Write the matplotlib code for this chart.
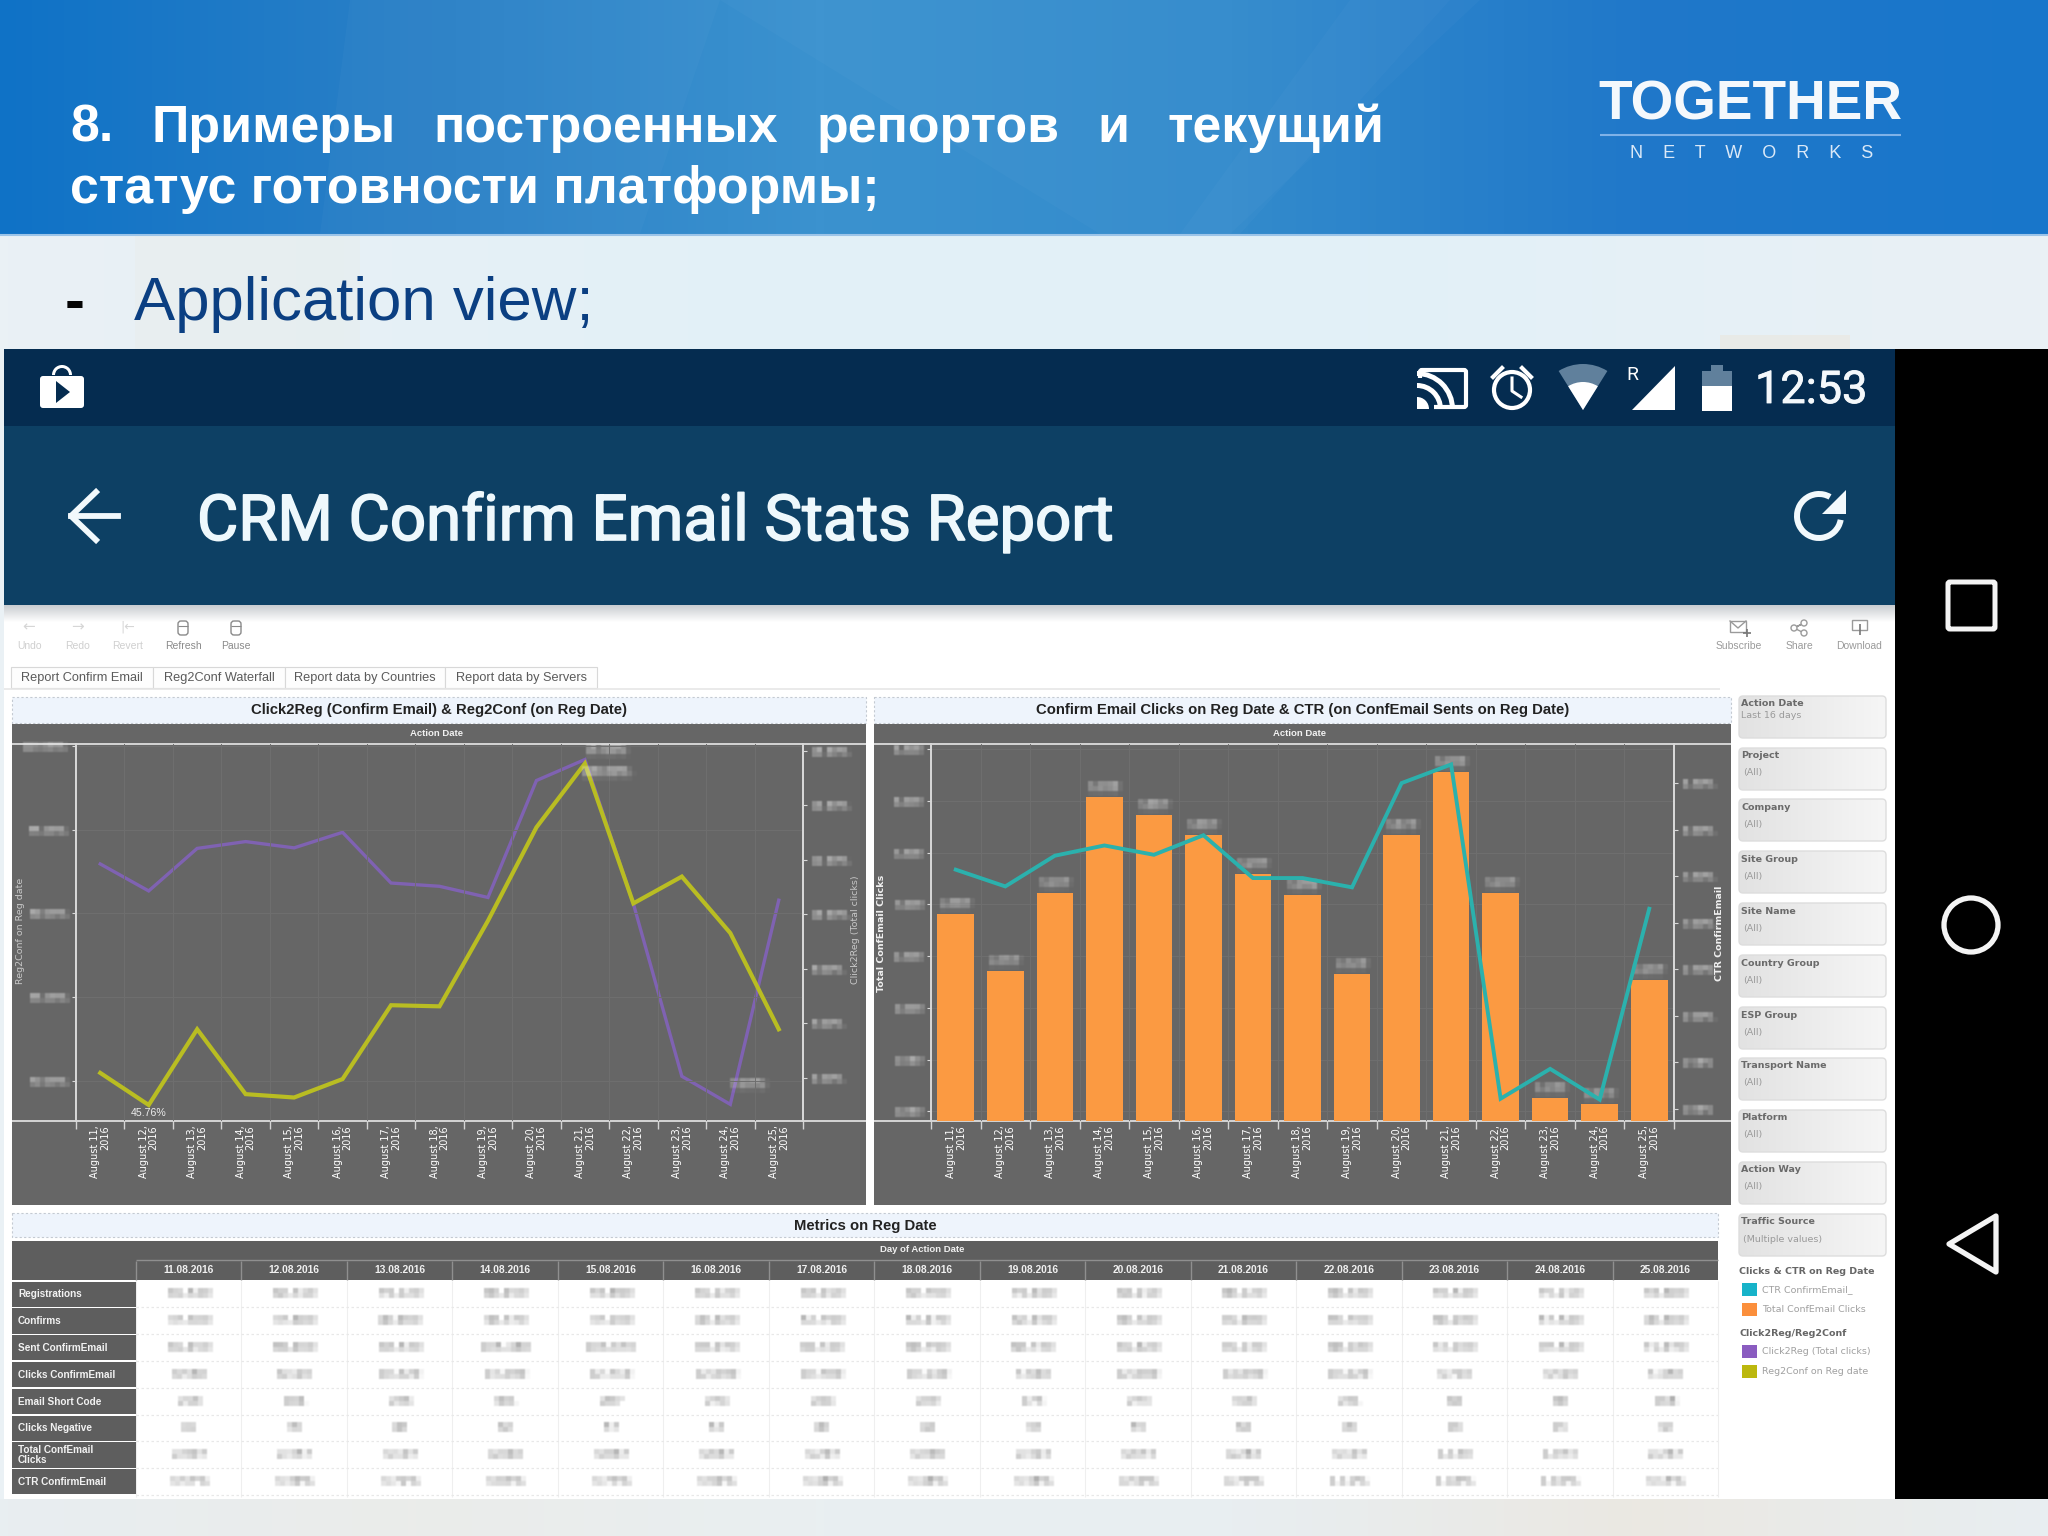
import numpy as np
import matplotlib
matplotlib.use("Agg")
import matplotlib.pyplot as plt
import matplotlib.patheffects as pe
from matplotlib.patches import Rectangle, FancyBboxPatch, Polygon, Circle, Wedge
from matplotlib.colors import LinearSegmentedColormap

# ---------- data ----------
date_labels = ["August %d,\n2016" % d for d in range(11, 26)]
table_dates = ["%d.08.2016" % d for d in range(11, 26)]
reg2conf = [51.5, 45.76, 59.3, 47.7, 47.1, 50.4, 63.6, 63.4, 78.7, 95.4, 106.8, 81.8, 86.6, 76.5, 59.3]
click2reg = [11.85, 10.86, 12.42, 12.67, 12.44, 13.01, 11.15, 11.03, 10.62, 14.91, 15.68, 10.39, 4.06, 3.03, 10.52]
total_clicks = [2907, 2357, 3107, 4040, 3867, 3667, 3297, 3090, 2323, 3673, 4283, 3107, 1130, 1073, 2267]
ctr_confirm = [3.57, 3.39, 3.72, 3.83, 3.73, 3.94, 3.48, 3.48, 3.38, 4.50, 4.70, 1.11, 1.43, 1.10, 3.15]
left_ticks = [50, 65, 80, 95, 110]
right_ticks = [4, 6, 8, 10, 12, 14, 16]
bar_ticks = [1000, 1500, 2000, 2500, 3000, 3500, 4000, 4500]
ctr_ticks = [1.0, 1.5, 2.0, 2.5, 3.0, 3.5, 4.0, 4.5]
registrations = [81540, 82310, 79120, 80450, 78890, 81220, 83010, 82760, 79940, 84210, 86120, 80330, 76540, 75210, 78660]
confirms = [37300, 37660, 46900, 38370, 37160, 40920, 52790, 52470, 62930, 80340, 91980, 65700, 66280, 57540, 46660]
sent_email = [81450, 69460, 83530, 105480, 103670, 93070, 94740, 88790, 68730, 81620, 91130, 88180, 72100, 97540, 71970]
clicks_email = [9560, 8120, 10320, 13290, 12710, 12090, 10780, 10140, 7640, 12080, 14090, 10220, 3710, 3520, 7450]
short_code = [218, 184, 236, 301, 287, 274, 244, 229, 173, 273, 318, 231, 84, 80, 168]
clicks_negative = [41, 35, 48, 62, 57, 53, 46, 44, 33, 55, 64, 45, 16, 15, 32]
row_labels = ["Registrations", "Confirms", "Sent ConfirmEmail", "Clicks ConfirmEmail", "Email Short Code",
              "Clicks Negative", "Total ConfEmail\nClicks", "CTR ConfirmEmail"]
filter_titles = ["Action Date", "Project", "Company", "Site Group", "Site Name", "Country Group",
                 "ESP Group", "Transport Name", "Platform", "Action Way", "Traffic Source"]
filter_values = ["Last 16 days", "(All)", "(All)", "(All)", "(All)", "(All)", "(All)", "(All)", "(All)", "(All)",
                 "(Multiple values)"]
tab_names = ["Report Confirm Email", "Reg2Conf Waterfall", "Report data by Countries", "Report data by Servers"]

# ---------- style ----------
PANEL = "#666666"
NARROW = ["Liberation Sans", "DejaVu Sans"]
SANS = ["Liberation Sans", "DejaVu Sans"]
W, H = 2048, 1536
fig = plt.figure(figsize=(W / 100, H / 100), dpi=100)
fig.patch.set_facecolor("#e9f1f5")
bg = fig.add_axes([0, 0, 1, 1], zorder=0)
bg.set_axis_off()


def mosaic(color, block=4, gain=1.5):
    rgb = np.array(matplotlib.colors.to_rgb(color))

    def flt(im, dpi):
        a = im[:, :, 3]
        pad = block * 2
        h, w = a.shape
        ph = pad + (block - (h + 2 * pad) % block) % block
        pw = pad + (block - (w + 2 * pad) % block) % block
        a = np.pad(a, ((pad, ph), (pad, pw)))
        hh, ww = a.shape
        m = a.reshape(hh // block, block, ww // block, block).mean(axis=(1, 3))
        m = np.repeat(np.repeat(m, block, axis=0), block, axis=1)
        k = np.array([1, 2, 1]) / 4
        m = np.apply_along_axis(lambda v: np.convolve(v, k, mode="same"), 0, m)
        m = np.apply_along_axis(lambda v: np.convolve(v, k, mode="same"), 1, m)
        out = np.zeros((hh, ww, 4))
        out[:, :, :3] = rgb
        out[:, :, 3] = np.clip(m * gain, 0, 1)
        return out, -pad, -ph

    return flt


def rect(x0, y0, x1, y1, c, z=1, **kw):
    p = Rectangle((x0, y0), x1 - x0, y1 - y0, facecolor=c, edgecolor=kw.pop("ec", "none"), zorder=z, **kw)
    bg.add_patch(p)
    return p


def grad(x0, y0, x1, y1, cols, horiz=True, z=1, clip=None):
    cm = LinearSegmentedColormap.from_list("g", cols)
    arr = np.linspace(0, 1, 256)
    arr = arr[None, :] if horiz else arr[:, None]
    im = bg.imshow(arr, extent=(x0, x1, y1, y0), cmap=cm, aspect="auto", zorder=z, origin="upper")
    if clip is not None:
        im.set_clip_path(clip)
    return im


def txt(x, y, s, size, c="k", fam=SANS, weight="normal", ha="left", va="center", z=5, **kw):
    return bg.text(x, y, s, fontsize=size, color=c, family=fam, weight=weight, ha=ha, va=va, zorder=z, **kw)


def hline(x0, x1, y, c, lw=1, z=3, **kw):
    bg.plot([x0, x1], [y, y], color=c, lw=lw, zorder=z, solid_capstyle="butt", **kw)


def vline(x, y0, y1, c, lw=1, z=3, **kw):
    bg.plot([x, x], [y0, y1], color=c, lw=lw, zorder=z, solid_capstyle="butt", **kw)


# ---------- slide background ----------
grad(0, 0, W, 234, ["#0f72c6", "#2a80c6", "#3b92cf", "#338bcc", "#2078c9", "#1876cb"])
for pts, a in [([(350, 0), (720, 0), (640, 234), (320, 234)], .025),
               ([(720, 0), (1180, 0), (1450, 0), (1240, 234), (1100, 234)], .025),
               ([(1350, 0), (1480, 0), (1230, 234), (1180, 234)], .025)]:
    bg.add_patch(Polygon(pts, facecolor="white", alpha=a, edgecolor="none", zorder=2))
hline(0, W, 235, "#9cc4e8", 1.5)
grad(0, 236, W, H, ["#eaf1f5", "#e3f0f7", "#e2f0f8", "#eaf1f5"])
rect(135, 236, 360, 349, "#f4d9b0", z=2, alpha=.07)
rect(1720, 335, 1850, 349, "#f6cfa8", z=2, alpha=.18)
grad(0, 1499, W, H, ["#e8eef1", "#ebecea", "#e9eff1", "#e8eef1", "#ebe8e2", "#e8eef1"], z=2)

# title, justified word by word
rend = fig.canvas.get_renderer()
line1 = ["8.", "Примеры", "построенных", "репортов", "и", "текущий"]
bg.set_xlim(0, W)
bg.set_ylim(H, 0)
meas = []
for w in line1:
    t = txt(0, 0, w, 37.4, "w", weight="bold", va="baseline")
    meas.append(t.get_window_extent(rend).width)
    t.remove()
gap = (1384 - 70 - sum(meas)) / (len(line1) - 1)
xp = 70
for w, m in zip(line1, meas):
    txt(xp, 142, w, 37.4, "w", weight="bold", va="baseline")
    xp += m + gap
txt(70, 203, "статус готовности платформы;", 37.4, "w", weight="bold", va="baseline")
txt(65, 320, "-", 43, "#050505", weight="bold", va="baseline")
txt(134, 320, "Application view;", 44.5, "#0b3f82", va="baseline")

# logo
txt(1750, 120, "TOGETHER", 39.5, "#f4f8fc", fam=NARROW, weight="bold", ha="center", va="baseline")
hline(1600, 1901, 135, "#7fb2e8", 1.5)
txt(1752, 154, "N    E    T    W    O    R    K    S", 13, "#dbe9f8", ha="center")

# ---------- phone chrome ----------
rect(4, 349, 1895, 426, "#052c50", z=2)
rect(4, 426, 1895, 605, "#0d4064", z=2)
rect(4, 605, 1895, 1499, "#ffffff", z=2)
grad(4, 605, 1895, 622, ["#c8ccd0", "#ffffff"], horiz=False, z=2.5)
rect(1895, 349, W, 1499, "#000000", z=2)

# play store bag
bg.add_patch(FancyBboxPatch((40, 376), 44, 32, boxstyle="round,pad=0,rounding_size=3", fc="w", ec="none", zorder=4))
bg.add_patch(Wedge((62, 375), 10, 180, 360, width=3, fc="w", ec="none", zorder=4))
bg.add_patch(Polygon([(56, 381), (56, 403), (70, 392)], fc="#052c50", ec="none", zorder=5))

# status icons
bg.add_patch(FancyBboxPatch((1420, 370), 46, 37, boxstyle="round,pad=0,rounding_size=2", fc="none", ec="w", lw=3, zorder=4))
rect(1414, 378, 1434, 412, "#052c50", z=4)
for r, wd in [(38, 5), (26, 5)]:
    bg.add_patch(Wedge((1417, 409), r, -90, 0, width=wd, fc="w", ec="none", zorder=5))
bg.add_patch(Wedge((1417, 409), 12, -90, 0, fc="w", ec="none", zorder=5))
bg.add_patch(Circle((1512, 390), 18, fc="none", ec="w", lw=3, zorder=4))
bg.plot([1512, 1512, 1521], [378, 391, 397], color="w", lw=2.2, zorder=4)
bg.plot([1493, 1502], [377, 368], color="w", lw=3, zorder=4)
bg.plot([1522, 1531], [368, 377], color="w", lw=3, zorder=4)
bg.add_patch(Wedge((1583, 410), 46, -90 - 32, -90 + 32, fc="#60809c", ec="none", zorder=4))
bg.add_patch(Wedge((1583, 410), 28, -90 - 32, -90 + 32, fc="w", ec="none", zorder=5))
txt(1626, 375, "R", 14, "w", fam=["Roboto", "DejaVu Sans"], ha="left")
bg.add_patch(Polygon([(1632, 410), (1675, 410), (1675, 366)], fc="w", ec="none", zorder=4))
rect(1702, 371, 1732, 411, "w", z=4)
rect(1702, 371, 1732, 386, "#60809c", z=4.5)
rect(1711, 365, 1723, 371, "#60809c", z=4.5)
txt(1755, 391, "12:53", 32.5, "#f4f8fb", fam=["Roboto", "DejaVu Sans"],
    path_effects=[pe.withStroke(linewidth=.6, foreground="#f4f8fb")])

# app bar
bg.plot([118, 71], [516, 516], color="#f2f9fc", lw=4.2, zorder=4)
bg.plot([96, 71, 96], [492, 516, 540], color="#f2f9fc", lw=4.2, zorder=4)
txt(197, 540, "CRM Confirm Email Stats Report", 45.7, "#eef8fc", fam=["Roboto", "DejaVu Sans"], va="baseline",
    path_effects=[pe.withStroke(linewidth=1.2, foreground="#eef8fc")])
bg.add_patch(Wedge((1819, 516), 25, 10, 300, width=6, fc="#f2f9fc", ec="none", zorder=4))
bg.add_patch(Polygon([(1846, 490), (1846, 514), (1822, 514)], fc="#f2f9fc", ec="none", zorder=4))

# android nav
bg.add_patch(FancyBboxPatch((1948, 582), 47, 47, boxstyle="round,pad=0,rounding_size=2", fc="none", ec="#f4f4f4", lw=3.6, zorder=4))
bg.add_patch(Circle((1971, 925), 27, fc="none", ec="#f4f4f4", lw=3.8, zorder=4))
bg.add_patch(Polygon([(1996, 1216), (1996, 1272), (1949, 1244)], fc="none", ec="#f4f4f4", lw=3.8, joinstyle="round", zorder=4))

# toolbar
for x, s, c in [(29, "Undo", "#cfcfcf"), (78, "Redo", "#cfcfcf"), (128, "Revert", "#cfcfcf"),
                (183, "Refresh", "#8a8a8a"), (236, "Pause", "#8a8a8a"),
                (1739, "Subscribe", "#9a9a9a"), (1799, "Share", "#9a9a9a"), (1859, "Download", "#9a9a9a")]:
    txt(x, 646, s, 7.5, c, fam=NARROW, ha="center")
txt(29, 627, "←", 11, "#d6d6d6", fam=["DejaVu Sans"], ha="center")
txt(78, 627, "→", 11, "#d6d6d6", fam=["DejaVu Sans"], ha="center")
txt(128, 627, "|←", 9, "#d6d6d6", fam=["DejaVu Sans"], ha="center")
for x in (183, 236):
    bg.add_patch(FancyBboxPatch((x - 5, 621), 10, 14, boxstyle="round,pad=0,rounding_size=3", fc="none", ec="#8a8a8a", lw=1, zorder=4))
    hline(x - 5, x + 5, 626, "#8a8a8a", .8, z=4)
rect(1730, 621, 1746, 632, "none", z=4, ec="#9a9a9a", lw=1)
bg.plot([1730, 1738, 1746], [621, 628, 621], color="#9a9a9a", lw=1, zorder=4)
hline(1743, 1751, 633, "#777777", 1.2, z=4)
vline(1747, 629, 637, "#777777", 1.2, z=4)
bg.plot([1794, 1804, 1794, 1804], [628, 623, 628, 633], color="#9a9a9a", lw=1, zorder=4)
for px, py in [(1794, 628), (1804, 623), (1804, 633)]:
    bg.add_patch(Circle((px, py), 3, fc="w", ec="#9a9a9a", lw=1, zorder=5))
rect(1852, 620, 1867, 630, "none", z=4, ec="#9a9a9a", lw=1)
vline(1859.5, 624, 635, "#777777", 1.2, z=5)

# tabs
tab_edges = [11, 153, 285, 445, 597]
for i, name in enumerate(tab_names):
    rect(tab_edges[i], 667, tab_edges[i + 1], 688, "#fdfdfd", z=3, ec="#d8d8d8", lw=.8)
    txt((tab_edges[i] + tab_edges[i + 1]) / 2, 678, name, 9.2, "#5a5a5a", fam=NARROW, ha="center")
hline(4, 1720, 689, "#e6e6e6", 1.2)


# ---------- chart panels ----------
def panel(x0, x1, title):
    rect(x0, 697, x1, 723, "#eef4fc", z=3, ec="#c4cad2", lw=.8, ls=(0, (2, 2)))
    txt((x0 + x1) / 2, 710, title, 10.7, "#222222", fam=NARROW, weight="bold", ha="center")
    rect(x0, 724, x1, 1205, PANEL, z=3)
    txt((x0 + x1) / 2 - 3, 733, "Action Date", 6.8, "#f2f2f2", fam=NARROW, weight="bold", ha="center")
    hline(x0, x1, 744, "#d4d4d4", 1.4, z=4)
    hline(x0, x1, 1121, "#d4d4d4", 1.4, z=4)


panel(12, 866, "Click2Reg (Confirm Email) & Reg2Conf (on Reg Date)")
panel(874, 1731, "Confirm Email Clicks on Reg Date & CTR (on ConfEmail Sents on Reg Date)")


def chart_axes(x0, x1, ylim):
    ax = fig.add_axes([x0 / W, 1 - 1121 / H, (x1 - x0) / W, (1121 - 744) / H], zorder=3)
    ax.patch.set_alpha(0)
    ax.set_xlim(-.5, 14.5)
    ax.set_ylim(*ylim)
    ax.set_xticks(range(15))
    ax.set_xticklabels(date_labels, rotation=90, fontsize=7, color="#ffffff", family="DejaVu Sans", ha="center",
                       va="top", ma="right", linespacing=1.0)
    ax.set_xticks(np.arange(-.5, 15, 1), minor=True)
    ax.tick_params(axis="x", which="major", length=0, pad=3)
    ax.tick_params(axis="x", which="minor", length=6, color="#d4d4d4", width=1)
    ax.grid(True, which="minor", axis="x", color="#6f6f6f", lw=.7)
    ax.grid(True, which="major", axis="y", color="#6f6f6f", lw=.7)
    ax.set_axisbelow(True)
    for s in ("top", "bottom"):
        ax.spines[s].set_visible(False)
    for s in ("left", "right"):
        ax.spines[s].set_color("#d8d8d8")
        ax.spines[s].set_linewidth(1.4)
    return ax


def blur_ticks(ax, ticks, labels):
    ax.set_yticks(ticks)
    ax.set_yticklabels(labels, fontsize=7.4, color="#e4e4e4", family="DejaVu Sans")
    ax.tick_params(axis="y", length=3, color="#d8d8d8", pad=3)
    for t in ax.get_yticklabels():
        t.set_agg_filter(mosaic("#e6e6e6", block=5, gain=1.3))


def blur_note(ax, x, y, s, dx, dy, c="#e8e8e8", size=8):
    a = ax.annotate(s, (x, y), xytext=(dx, dy), textcoords="offset pixels", fontsize=size, color=c, ha="center",
                    va="center", zorder=8)
    a.set_agg_filter(mosaic(c, block=5, gain=1.3))


xs = np.arange(15)

# left chart
a1r = chart_axes(76, 803, (42.9, 110.3))
a1r.set_ylim(2.42, 16.25)
a1r.yaxis.tick_right()
a1r.set_xticklabels([""] * 15)
a1r.tick_params(axis="x", which="minor", length=0)
a1r.grid(False, axis="y")
a1r.set_zorder(3)
blur_ticks(a1r, right_ticks, ["%.2f%%" % v for v in right_ticks])
a1r.grid(False, axis="y")
a1r.plot(xs, click2reg, color="#7f62b2", lw=2.4, solid_joinstyle="miter", zorder=3)
blur_note(a1r, 10, click2reg[10], "%.2f%%" % click2reg[10], 22, 10)
blur_note(a1r, 13, click2reg[13], "%.2f%%" % click2reg[13], 18, 20)

a1 = chart_axes(76, 803, (42.9, 110.3))
a1.set_zorder(4)
blur_ticks(a1, left_ticks, ["%.2f%%" % v for v in left_ticks])
a1.plot(xs, reg2conf, color="#b9bd22", lw=3.0, solid_joinstyle="miter", zorder=4)
a1.text(1, reg2conf[1], "45.76%", fontsize=7.6, color="#ececec", family=NARROW, ha="center", va="top",
        transform=a1.transData + matplotlib.transforms.ScaledTranslation(0, -3 / 100, fig.dpi_scale_trans))
blur_note(a1, 10, reg2conf[10], "%.2f%%" % reg2conf[10], 22, -8)
txt(21, 931, "Reg2Conf on Reg date", 6.8, "#c8c8c8", fam=["DejaVu Sans"], ha="center", rotation=90)
txt(855, 930, "Click2Reg (Total clicks)", 6.8, "#c8c8c8", fam=["DejaVu Sans"], ha="center", rotation=90, z=6)

# right chart
a2 = chart_axes(931, 1674, (907, 4550))
blur_ticks(a2, bar_ticks, ["{:,}".format(v) for v in bar_ticks])
a2.bar(xs, total_clicks, width=.74, color="#fb9a42", edgecolor="none", zorder=3)
for i, v in enumerate(total_clicks):
    blur_note(a2, i, v, "{:,}".format(v), 0, 10, c="#d8d8d8")
a2r = a2.twinx()
a2r.patch.set_alpha(0)
a2r.set_zorder(4)
a2r.set_ylim(0.87, 4.92)
for s in ("top", "bottom", "left"):
    a2r.spines[s].set_visible(False)
a2r.spines["right"].set_color("#d8d8d8")
a2r.spines["right"].set_linewidth(1.4)
blur_ticks(a2r, ctr_ticks, ["%.2f%%" % v for v in ctr_ticks])
a2r.plot(xs, ctr_confirm, color="#2bb1ad", lw=2.8, solid_joinstyle="miter", zorder=3)
txt(882, 933, "Total ConfEmail Clicks", 6.8, "#f0f0f0", fam=["DejaVu Sans"], weight="bold", ha="center", rotation=90)
txt(1720, 933, "CTR ConfirmEmail", 6.8, "#f0f0f0", fam=["DejaVu Sans"], weight="bold", ha="center", rotation=90, z=6)

# ---------- table ----------
T0, T1, C0 = 12, 1718, 136
rect(T0, 1213, T1, 1237, "#eef4fc", z=3, ec="#c4cad2", lw=.8, ls=(0, (2, 2)))
txt(865, 1226, "Metrics on Reg Date", 10.7, "#222222", fam=NARROW, weight="bold", ha="center")
rect(T0, 1241, T1, 1280, "#5e5e5e", z=3)
txt(922, 1250, "Day of Action Date", 6.8, "#f0f0f0", fam=NARROW, weight="bold", ha="center")
hline(C0, T1, 1260, "#8f8f8f", 1)
cw = (T1 - C0) / 15
rp = 26.8
ry0 = 1281.5
table_rows = [["{:,}".format(v) for v in registrations], ["{:,}".format(v) for v in confirms],
              ["{:,}".format(v) for v in sent_email], ["{:,}".format(v) for v in clicks_email],
              ["{:,}".format(v) for v in short_code], ["{:,}".format(v) for v in clicks_negative],
              ["{:,}".format(v) for v in total_clicks], ["%.2f%%" % v for v in ctr_confirm]]
for j, d in enumerate(table_dates):
    x = C0 + j * cw
    vline(x, 1261, 1280, "#8f8f8f", 1)
    vline(x, 1281, 1497, "#efefef", .8)
    txt(x + cw / 2, 1270, d, 7.4, "#f0f0f0", fam=NARROW, weight="bold", ha="center")
for i, (lab, vals) in enumerate(zip(row_labels, table_rows)):
    y0 = ry0 + i * rp
    rect(T0, y0, C0, y0 + rp - 1.5, "#5e5e5e", z=3)
    txt(18, y0 + rp / 2 - .5, lab, 7.2, "#f2f2f2", fam=NARROW, weight="bold", linespacing=1.05)
    hline(C0, T1, y0 + rp - 1, "#e8e8e8", .9, ls=(0, (2, 2)))
    for j, v in enumerate(vals):
        t = txt(C0 + (j + .5) * cw, y0 + rp / 2 - 1, v, 9, "#888888", fam=["DejaVu Sans"], ha="center")
        t.set_agg_filter(mosaic("#777777", block=5, gain=1.1))
vline(T1, 1281, 1497, "#eeeeee", .8)

# ---------- filters ----------
tops = [696, 748, 799, 851, 903, 955, 1007, 1058, 1110, 1162, 1214]
for i, (top, ft, fv) in enumerate(zip(tops, filter_titles, filter_values)):
    box = FancyBboxPatch((1739, top), 147, 42, boxstyle="round,pad=0,rounding_size=4", fc="none", ec="#dddddd", lw=1,
                         zorder=4)
    bg.add_patch(box)
    grad(1739, top, 1886, top + 42, ["#e2e2e2", "#f6f6f6"], z=3, clip=box)
    txt(1741, top + 8, ft, 6.8, "#6a6a6a", fam=["DejaVu Sans"], weight="bold")
    txt(1741 if i == 0 else 1743, top + (20 if i == 0 else 25), fv, 6.8, "#9a9a9a", fam=["DejaVu Sans"])

# legend
txt(1739, 1271, "Clicks & CTR on Reg Date", 6.8, "#666666", fam=["DejaVu Sans"], weight="bold")
txt(1739, 1333, "Click2Reg/Reg2Conf", 6.8, "#666666", fam=["DejaVu Sans"], weight="bold")
for y, c, s in [(1283, "#17b3c9", "CTR ConfirmEmail_"), (1303, "#fb8f3c", "Total ConfEmail Clicks"),
                (1345, "#8a5cc0", "Click2Reg (Total clicks)"), (1365, "#bcb80e", "Reg2Conf on Reg date")]:
    rect(1742, y, 1757, y + 13, c, z=4)
    txt(1762, y + 6.5, s, 6.8, "#a0a0a0", fam=["DejaVu Sans"])

bg.set_xlim(0, W)
bg.set_ylim(H, 0)
fig.savefig("out.png", dpi=100, facecolor=fig.get_facecolor())
